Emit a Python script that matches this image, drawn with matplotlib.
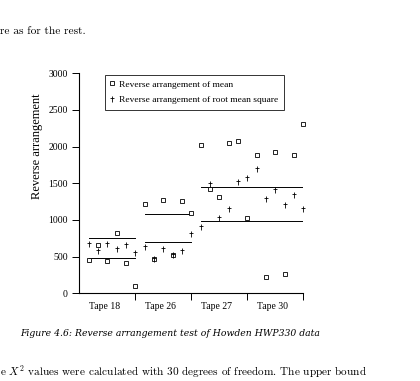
import matplotlib
matplotlib.use("Agg")
import matplotlib.pyplot as plt
import numpy as np
from matplotlib.path import Path

plt.rcParams['mathtext.fontset'] = 'cm'

tapes = ["Tape 18", "Tape 26", "Tape 27", "Tape 30"]
rev_mean = [
    [455, 659, 441, 823, 414, 105],
    [1214, 473, 1268, 518, 1254, 1095],
    [2023, 1427, 1309, 2050, 2073, 1032],
    [1891, 227, 1923, 268, 1891, 2309],
]
rev_rms = [
    [673, 582, 673, 609, 659, 555],
    [636, 473, 604, 523, 582, 804],
    [909, 1491, 1023, 1150, 1514, 1577],
    [1695, 1282, 1414, 1200, 1341, 1155],
]
upper_bound = [750, 1077, 1450, 1450]
lower_bound = [477, 705, 982, 982]
yticks = [0, 500, 1000, 1500, 2000, 2500, 3000]

serif = ['Liberation Serif', 'DejaVu Serif']

fig = plt.figure(figsize=(4.2, 3.81), dpi=100)
ax = fig.add_axes([0.189, 0.230, 0.533, 0.578])

plus_path = Path([(-0.55, 0.15), (0.55, 0.15), (0, 1.0), (0, -1.0)],
                 [Path.MOVETO, Path.LINETO, Path.MOVETO, Path.LINETO])

n = len(rev_mean[0])
for i in range(len(tapes)):
    xs = np.arange(1, n + 1) + i * n
    ax.plot(xs, rev_mean[i], linestyle='none', marker='s', markersize=2.6,
            markerfacecolor='white', markeredgecolor='black', markeredgewidth=0.6,
            clip_on=False, label='Reverse arrangement of mean' if i == 0 else None, zorder=3)
    ax.plot(xs, rev_rms[i], linestyle='none', marker=plus_path, markersize=5,
            markeredgecolor='black', markeredgewidth=0.6, color='black',
            clip_on=False, label='Reverse arrangement of root mean square' if i == 0 else None, zorder=3)


def draw_bounds(bounds):
    # join consecutive tapes sharing the same bound into one segment
    i = 0
    while i < len(bounds):
        j = i
        while j + 1 < len(bounds) and bounds[j + 1] == bounds[i]:
            j += 1
        ax.plot([i * n + 1, (j + 1) * n], [bounds[i]] * 2, color='black', lw=0.7)
        i = j + 1


draw_bounds(upper_bound)
draw_bounds(lower_bound)

ax.set_xlim(0, n * len(tapes))
ax.set_ylim(0, 3000)
ax.set_yticks(yticks)
ax.set_yticklabels([str(v) for v in yticks], fontfamily=serif, fontsize=7)
ax.set_xticks([n * (i + 1) for i in range(len(tapes))])
ax.set_xticklabels([])
ax.set_xticks([n * i + n / 2 - 0.3 for i in range(len(tapes))], minor=True)
ax.set_xticklabels(tapes, minor=True, fontfamily=serif, fontsize=7)
ax.tick_params(axis='x', which='minor', length=0, pad=6.5)
ax.tick_params(axis='both', which='major', length=4.8, width=0.7, direction='out', pad=3.5)
for s in ['top', 'right']:
    ax.spines[s].set_visible(False)
for s in ['left', 'bottom']:
    ax.spines[s].set_linewidth(0.8)

ax.set_ylabel('Reverse arrangement', fontfamily=serif, fontsize=9)
ax.yaxis.set_label_coords(-0.163, 0.67)

leg = ax.legend(loc='upper left', bbox_to_anchor=(0.115, 0.993), prop={'family': serif, 'size': 6.8},
                frameon=True, fancybox=False, edgecolor='black', handlelength=0.4,
                handletextpad=0.5, borderpad=0.58, labelspacing=0.75, borderaxespad=0)
leg.get_frame().set_linewidth(0.7)

fig.text(0.0, 1 - 31 / 381, 're as for the rest.', fontfamily='cmr10', fontsize=8.2, va='center', ha='left')
fig.text(20 / 420, 1 - 333 / 381, 'Figure 4.6: Reverse arrangement test of Howden HWP330 data',
         fontfamily=['DejaVu Serif'], style='italic', fontsize=6.65, va='center', ha='left')
fig.text(0.0, 1 - 372 / 381, r'e $X^2$ values were calculated with 30 degrees of freedom. The upper bound',
         fontfamily='cmr10', fontsize=8.1, va='center', ha='left')

fig.savefig('out.png', dpi=100)
